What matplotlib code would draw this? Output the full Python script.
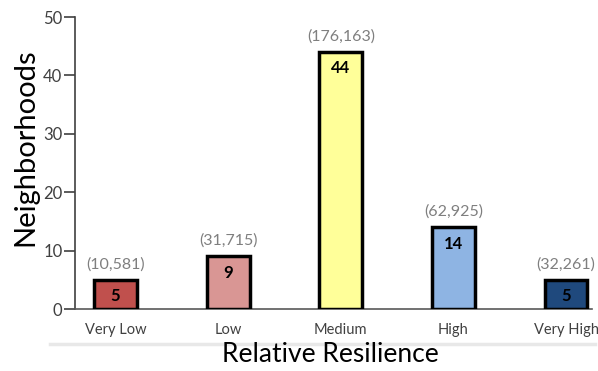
import matplotlib.pyplot as plt
from matplotlib.lines import Line2D

# neighborhood counts per resilience class, with population in brackets
categorias = ["Very Low", "Low", "Medium", "High", "Very High"]
barrios = [5, 9, 44, 14, 5]
poblacion = ["(10,581)", "(31,715)", "(176,163)", "(62,925)", "(32,261)"]
colores = ["#C0504D", "#D99694", "#FFFF99", "#8EB4E3", "#1F497D"]

plt.rcParams['font.family'] = ['Lato', 'DejaVu Sans']

fig = plt.figure(figsize=(5.98, 3.71), dpi=100)
ax = fig.add_axes([75/598, 1-309/371, 517/598, 292/371])

x = list(range(len(categorias)))
ax.bar(x, barrios, width=0.38, color=colores, edgecolor="black", linewidth=2.5, zorder=3)

for xi, v, p in zip(x, barrios, poblacion):
    ax.annotate(p, (xi, v), xytext=(0, 6), textcoords="offset points",
                ha="center", va="bottom", fontsize=11.5, color="#7f7f7f")
    ax.annotate(str(v), (xi, v), xytext=(0, -6), textcoords="offset points",
                ha="center", va="top", fontsize=12, fontweight="bold", color="black", zorder=4)

ax.set_xlim(-0.36, 4.23)
ax.set_ylim(0, 50)
ax.set_yticks([0, 10, 20, 30, 40, 50])
ax.set_xticks(x)
ax.set_xticklabels(categorias, fontsize=10.5, color="#404040")
ax.tick_params(axis="x", length=0, pad=10)
ax.tick_params(axis="y", length=8, width=1.2, color="#404040", labelsize=12,
               labelcolor="#404040", pad=1)

for s in ["top", "right"]:
    ax.spines[s].set_visible(False)
ax.spines["left"].set_color("#404040")
ax.spines["left"].set_linewidth(1.2)
ax.spines["bottom"].set_color("#595959")
ax.spines["bottom"].set_linewidth(1.2)

fig.text(330/598, 1-355/371, "Relative Resilience", fontsize=19,
         ha="center", va="center")
fig.text(25/598, 1-147/371, "Neighborhoods", rotation=90, fontsize=21,
         ha="center", va="center")

# light separator under the category labels
fig.add_artist(Line2D([50/598, 595/598], [1-344/371, 1-344/371],
                      transform=fig.transFigure, color="#e8e8e8", linewidth=2.5))

fig.savefig("out.png", dpi=100)
